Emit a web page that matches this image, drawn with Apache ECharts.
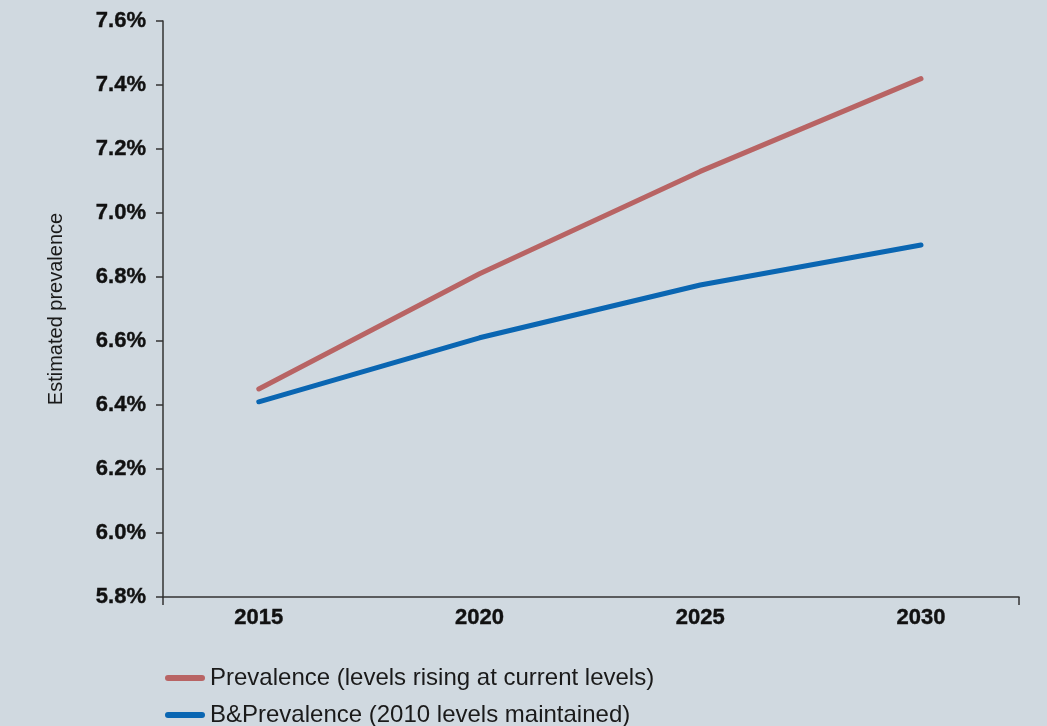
<!DOCTYPE html>
<html>
<head>
<meta charset="utf-8">
<script src="https://cdn.jsdelivr.net/npm/echarts@6/dist/echarts.min.js"></script>
<style>
html,body{margin:0;padding:0;background:#d0d9e0;}
#chart{width:1047px;height:726px;}
</style>
</head>
<body>
<div id="chart"></div>
<script>
const years = [2015, 2020, 2025, 2030];
const risingName = 'Prevalence (levels rising at current levels)';
const risingValues = [6.45, 6.81, 7.13, 7.42];
const maintainedName = 'B&Prevalence (2010 levels maintained)';
const maintainedValues = [6.41, 6.61, 6.775, 6.90];
const xMin = 2012.83, xMax = 2032.22;
const yMin = 5.8, yMax = 7.6, yStep = 0.2;
const yAxisTitle = 'Estimated prevalence';

const pairs = (vals) => years.map((y, i) => [y, vals[i]]);
const FONT = '"Liberation Sans", Arial, sans-serif';
const boldText = {fontFamily: FONT, fontSize: 22, fontWeight: 'bold', color: '#111',
  textBorderColor: '#111', textBorderWidth: 0.4};
const chart = echarts.init(document.getElementById('chart'), null, {renderer: 'canvas'});
chart.setOption({
  backgroundColor: '#d0d9e0',
  animation: false,
  grid: {left: 163, right: 28, top: 21, bottom: 129, containLabel: false},
  legend: {
    orient: 'vertical',
    left: 160,
    top: 661,
    height: 66,
    itemWidth: 40,
    itemHeight: 6,
    itemGap: 13,
    icon: 'path://M3,0 L37,0 A3,3 0 0 1 37,6 L3,6 A3,3 0 0 1 3,0 Z',
    textStyle: {fontFamily: FONT, fontSize: 24, color: '#1a1a1a', padding: [0, 0, 0, 0]},
    data: [risingName, maintainedName]
  },
  xAxis: {
    type: 'value',
    min: xMin, max: xMax,
    axisLine: {show: true, lineStyle: {color: '#333', width: 1.5}},
    axisTick: {show: true, length: 8, customValues: [xMin, xMax], lineStyle: {color: '#333', width: 1.5}},
    axisLabel: Object.assign({margin: 10, customValues: years,
      formatter: function (v) { return String(Math.round(v)); }}, boldText),
    splitLine: {show: false}
  },
  yAxis: {
    type: 'value',
    min: yMin, max: yMax, interval: yStep,
    name: yAxisTitle,
    nameLocation: 'middle',
    nameGap: 97,
    nameTextStyle: {fontFamily: FONT, fontSize: 20, color: '#1a1a1a'},
    axisLine: {show: true, lineStyle: {color: '#333', width: 1.5}},
    axisTick: {show: true, length: 7, inside: false, lineStyle: {color: '#333', width: 1.5}},
    axisLabel: Object.assign({margin: 17,
      formatter: function (v) { return v.toFixed(1) + '%'; }}, boldText),
    splitLine: {show: false}
  },
  series: [
    {
      name: risingName, type: 'line', data: pairs(risingValues),
      showSymbol: false, symbol: 'none',
      lineStyle: {color: '#b86464', width: 5, cap: 'round', join: 'round'},
      itemStyle: {color: '#b86464'}
    },
    {
      name: maintainedName, type: 'line', data: pairs(maintainedValues),
      showSymbol: false, symbol: 'none',
      lineStyle: {color: '#0a66b2', width: 5, cap: 'round', join: 'round'},
      itemStyle: {color: '#0a66b2'}
    }
  ]
});
</script>
</body>
</html>
